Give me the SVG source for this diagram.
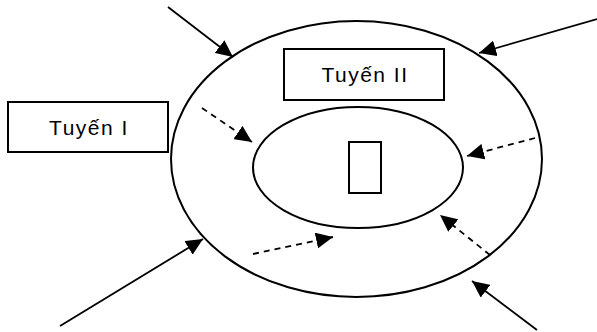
<svg xmlns="http://www.w3.org/2000/svg" width="597" height="332" viewBox="0 0 597 332">
<style>
.shape{fill:none;stroke:#000;stroke-width:2}
.box{fill:#fff;stroke:#000;stroke-width:2}
.solid{stroke:#000;stroke-width:1.8;fill:none}
.dash{stroke:#000;stroke-width:1.8;fill:none;stroke-dasharray:6 5}
.lbl{font-family:"Liberation Sans",Arial,sans-serif;font-size:21px;letter-spacing:1.5px;fill:#000;text-anchor:middle}
</style>
<defs>
<marker id="ah" markerUnits="userSpaceOnUse" markerWidth="18" markerHeight="16" refX="17" refY="8" orient="auto">
<path d="M0,0 L17,8 L0,16 z" fill="#000"/>
</marker>
</defs>
<rect width="597" height="332" fill="#fff"/>
<g id="outer-ring"><ellipse class="shape" cx="356.5" cy="159" rx="185.5" ry="138"/></g>
<g id="inner-ring"><ellipse class="shape" cx="358" cy="167.5" rx="105" ry="60.5"/></g>
<g id="tuyen-1"><rect class="box" x="8" y="102" width="160" height="50"/><text class="lbl" x="89" y="135">Tuyến I</text></g>
<g id="tuyen-2"><rect class="box" x="284" y="49" width="160" height="51"/><text class="lbl" x="365" y="82">Tuyến II</text></g>
<g id="center"><rect class="shape" x="349" y="142" width="32" height="51"/></g>
<g id="connectors">
<line class="solid" x1="168" y1="7" x2="233" y2="57" marker-end="url(#ah)"/>
<line class="solid" x1="597" y1="19" x2="479" y2="53" marker-end="url(#ah)"/>
<line class="solid" x1="60" y1="326" x2="203" y2="239" marker-end="url(#ah)"/>
<line class="solid" x1="537" y1="330" x2="472" y2="281" marker-end="url(#ah)"/>
<line class="dash" x1="202" y1="108" x2="252" y2="142" marker-end="url(#ah)"/>
<line class="dash" x1="535" y1="138" x2="467" y2="156" marker-end="url(#ah)"/>
<line class="dash" x1="253" y1="254" x2="333" y2="237" marker-end="url(#ah)"/>
<line class="dash" x1="490" y1="255" x2="440" y2="215" marker-end="url(#ah)"/>
</g>
</svg>
